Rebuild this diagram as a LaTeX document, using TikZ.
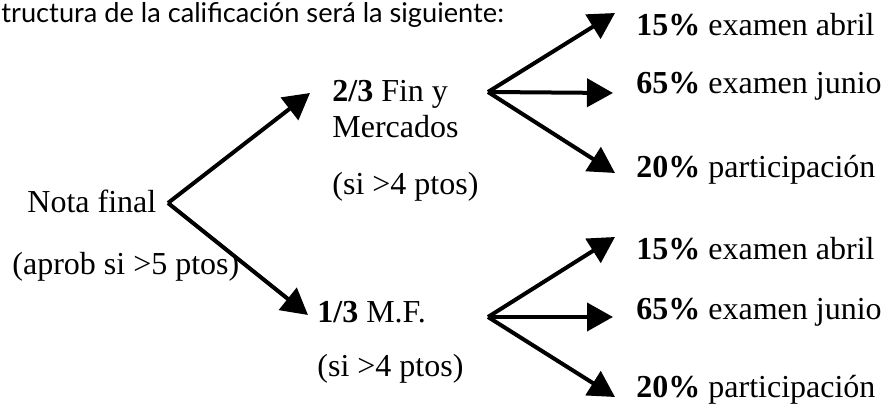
\documentclass[tikz,border=0pt]{standalone}
\usepackage{fontspec}
\setmainfont{Liberation Serif}
\newfontfamily\headfont{Lato}
\usetikzlibrary{arrows.meta}

\begin{document}
\begin{tikzpicture}[x=0.5pt,y=-0.5pt,
	txt/.style={anchor=base west,inner sep=0pt,font=\fontsize{16}{19}\selectfont},
	>={Triangle[length=13pt,width=14pt]}]
	\useasboundingbox (0,0) rectangle (884,410);
	\node[anchor=base west,inner sep=0pt,font=\headfont\fontsize{13.6}{16}\selectfont] (head) at (1,23) {tructura de la calificación será la siguiente:};
	%
	\node[txt] (nota) at (27,213) {Nota final};
	\node[txt] (aprob) at (12,275) {(aprob si >5 ptos)};
	\node[txt] (fin) at (332,102) {\textbf{2/3} Fin y};
	\node[txt] (merc) at (332,138) {Mercados};
	\node[txt] (finpt) at (332,195) {(si >4 ptos)};
	\node[txt] (mf) at (317,323) {\textbf{1/3} M.F.};
	\node[txt] (mfpt) at (317,377) {(si >4 ptos)};
	%
	\node[txt] (fa) at (636,36) {\textbf{15\%} examen abril};
	\node[txt] (fj) at (636,94) {\textbf{65\%} examen junio};
	\node[txt] (fp) at (636,178) {\textbf{20\%} participación};
	\node[txt] (ma) at (636,260) {\textbf{15\%} examen abril};
	\node[txt] (mj) at (636,320) {\textbf{65\%} examen junio};
	\node[txt] (mp) at (636,398) {\textbf{20\%} participación};
	%
	\coordinate (r) at (168,203);
	\coordinate (rf) at (310,93);
	\coordinate (rm) at (308,315);
	\coordinate (f) at (488,92);
	\coordinate (fa') at (615,13);
	\coordinate (fj') at (613,93);
	\coordinate (fp') at (615,173);
	\coordinate (m) at (488,317);
	\coordinate (ma') at (615,237);
	\coordinate (mj') at (613,317);
	\coordinate (mp') at (615,397);
	%
	\path[->,line width=2pt]
	(r) edge (rf)
		edge (rm)
	(f) edge (fa')
		edge (fj')
		edge (fp')
	(m) edge (ma')
		edge (mj')
		edge (mp');
\end{tikzpicture}
\end{document}
